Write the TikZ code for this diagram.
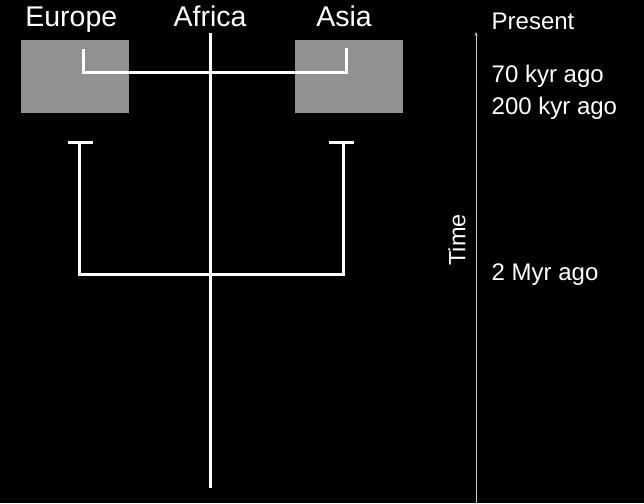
\documentclass[tikz,border=0pt]{standalone}
\usepackage{fontspec}
\setmainfont{Liberation Sans}
\usetikzlibrary{arrows.meta}
\definecolor{regiongray}{RGB}{145,145,145}
\definecolor{axisgray}{RGB}{200,200,200}
\tikzset{
  region/.style={fill=regiongray, draw=none, minimum width=108pt, minimum height=73pt, inner sep=0pt},
  place/.style={text=white, font=\fontsize{28.5}{30}\selectfont, inner sep=0pt, anchor=base},
  era/.style={text=white, font=\fontsize{24}{26}\selectfont, inner sep=0pt, anchor=base west},
  lineage/.style={white, line width=3pt},
  timeaxis/.style={axisgray, line width=1pt, -{Stealth[length=4pt, width=3pt]}}
}
\begin{document}
\begin{tikzpicture}[x=1pt, y=-1pt]
  % canvas
  \fill[black] (0,0) rectangle (644,503);
  \useasboundingbox (0,0) rectangle (644,503);

  % regions
  \node[region] (eurobox) at (75,76.5) {};
  \node[region] (asiabox) at (349,76.5) {};

  % region names
  \node[place] (europe) at (71.3,26.7) {Europe};
  \node[place] (africa) at (210,26.7) {Africa};
  \node[place] (asia)   at (344,26.7) {Asia};

  % main African lineage
  \coordinate (afTop) at (210.5,33);
  \coordinate (afBot) at (210.5,488);
  \draw[lineage] (afTop) -- (afBot);

  % recent dispersal (70 kyr)
  \coordinate (euRecent) at (83,49);
  \coordinate (asRecent) at (346,48);
  \draw[lineage] (euRecent) -- (83,72) -- (346,72) -- (asRecent);

  % early dispersal (2 Myr) with extinction bars
  \coordinate (euOldL) at (68,142.5);
  \coordinate (euOldR) at (93,142.5);
  \coordinate (asOldL) at (329,142.5);
  \coordinate (asOldR) at (354,142.5);
  \draw[lineage] (euOldL) -- (euOldR);
  \draw[lineage] (asOldL) -- (asOldR);
  \draw[lineage] (79.5,142.5) -- (79.5,274.5) -- (343,274.5) -- (343,142.5);

  % time axis
  \coordinate (axBot) at (476,503);
  \coordinate (axTop) at (476,32);
  \draw[timeaxis] (axBot) -- (axTop);
  \node[text=white, font=\fontsize{23.5}{25}\selectfont, rotate=90, inner sep=0pt] (time) at (457,240) {Time};

  % time marks
  \node[era] (present) at (491.5,29.3) {Present};
  \node[era] (k70)     at (491.5,82)   {70 kyr ago};
  \node[era] (k200)    at (491.5,114.5) {200 kyr ago};
  \node[era] (m2)      at (491.5,280.5) {2 Myr ago};
\end{tikzpicture}
\end{document}
